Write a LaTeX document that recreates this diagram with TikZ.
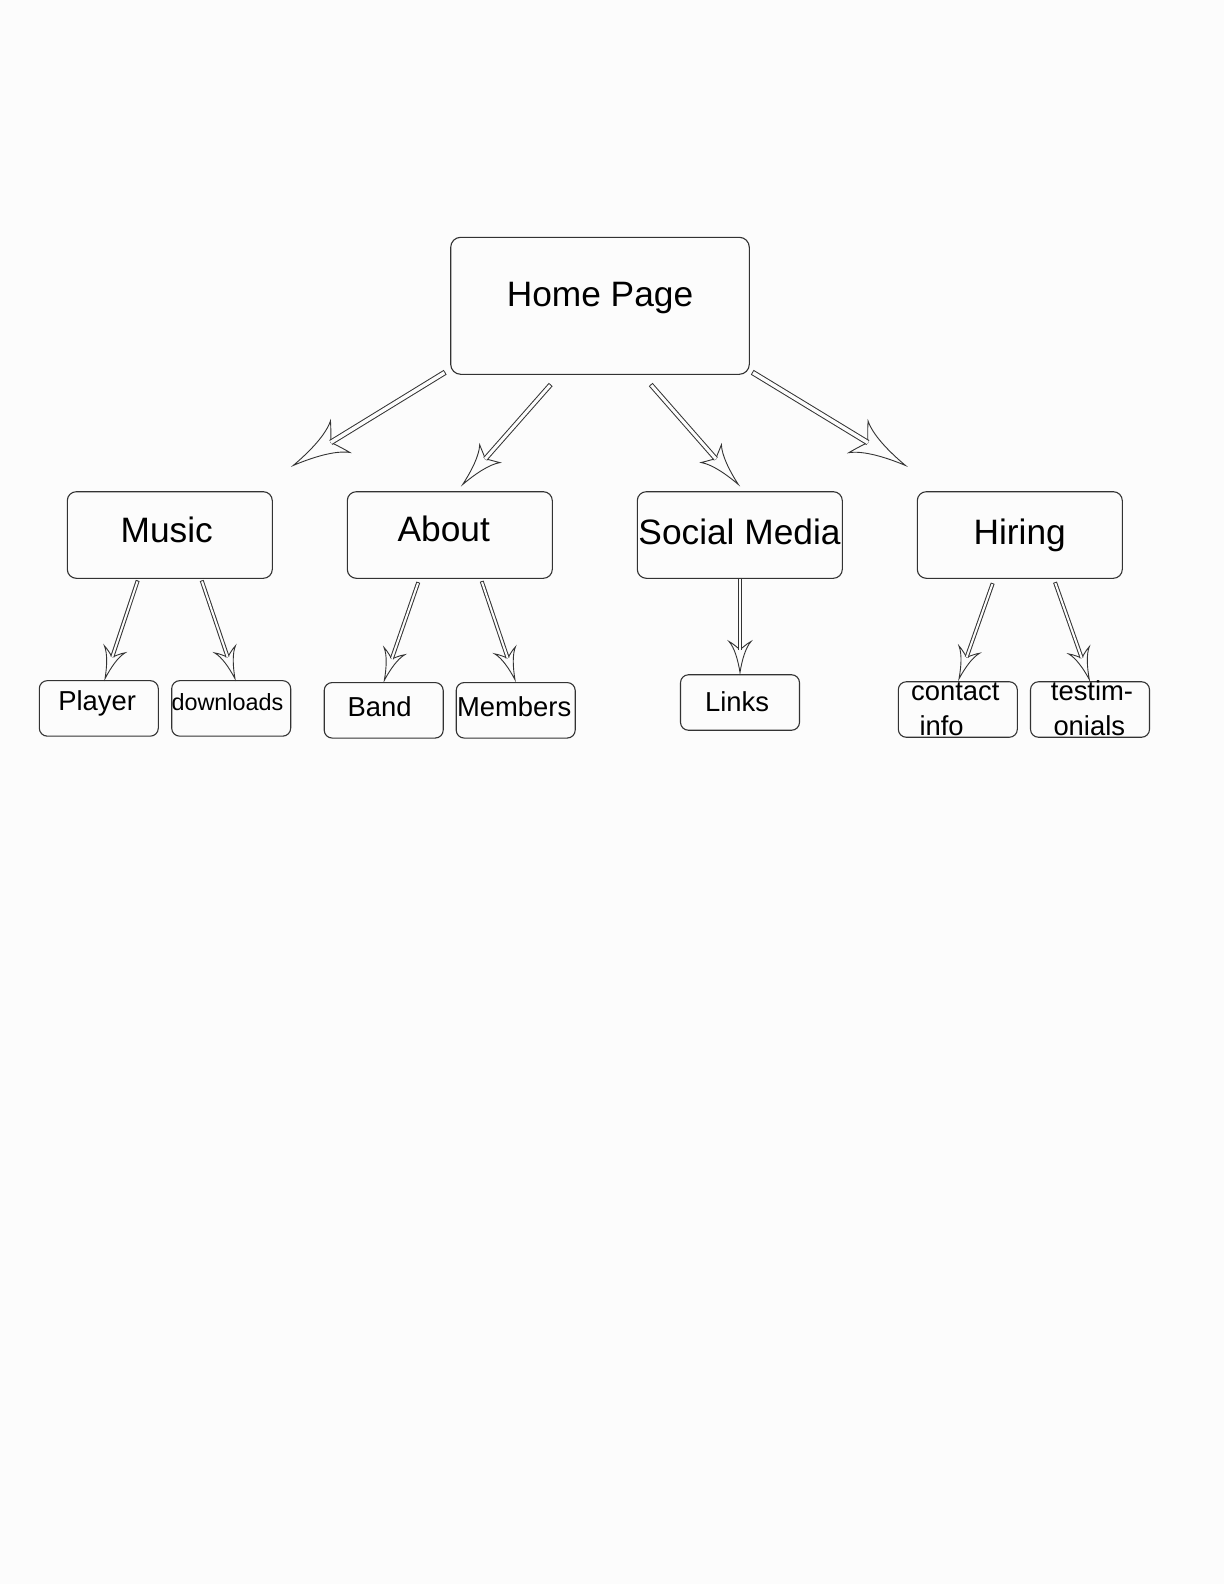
\documentclass[tikz,border=0pt]{standalone}
\usepackage{fontspec}
\setmainfont{Liberation Sans}
\usetikzlibrary{arrows.meta}
\definecolor{bgc}{HTML}{FCFCFC}
\definecolor{lc}{HTML}{333333}
\newdimen\swL \newdimen\swW \newdimen\swI
\pgfdeclarearrow{
  name = Swoosh,
  parameters = {\the\pgfarrowlength,\the\pgfarrowwidth,\the\pgfarrowinset},
  setup code = {
    \pgfarrowssettipend{0pt}
    \swI=\pgfarrowlength \advance\swI by -\pgfarrowinset
    \pgfarrowssetlineend{-\swI}
    \pgfarrowssetbackend{-\pgfarrowlength}
    \pgfarrowshullpoint{0pt}{0pt}
    \pgfarrowshullpoint{-\pgfarrowlength}{.5\pgfarrowwidth}
    \pgfarrowshullpoint{-\pgfarrowlength}{-.5\pgfarrowwidth}
    \pgfarrowssavethe\pgfarrowlength
    \pgfarrowssavethe\pgfarrowwidth
    \pgfarrowssavethe\pgfarrowinset
  },
  drawing code = {
    \swL=\pgfarrowlength \swW=.5\pgfarrowwidth
    \swI=\pgfarrowlength \advance\swI by -\pgfarrowinset
    \pgfpathmoveto{\pgfpointorigin}
    \pgfpathcurveto{\pgfqpoint{-.4\swL}{.18\swW}}{\pgfqpoint{-.8\swL}{.5\swW}}{\pgfqpoint{-\swL}{\swW}}
    \pgfpathcurveto{\pgfqpoint{-.93\swL}{.6\swW}}{\pgfqpoint{-1.05\swI}{.18\swW}}{\pgfqpoint{-\swI}{0pt}}
    \pgfpathcurveto{\pgfqpoint{-1.05\swI}{-.18\swW}}{\pgfqpoint{-.93\swL}{-.6\swW}}{\pgfqpoint{-\swL}{-\swW}}
    \pgfpathcurveto{\pgfqpoint{-.8\swL}{-.5\swW}}{\pgfqpoint{-.4\swL}{-.18\swW}}{\pgfpointorigin}
    \pgfpathclose
    \pgfusepathqfillstroke
  },
  defaults = {length=10pt, width=8pt, inset=3pt}
}
\tikzset{
  box/.style={draw=lc, line width=1.1pt, inner sep=0pt},
  topbox/.style={box, rounded corners=10pt, minimum width=298.6pt, minimum height=137pt},
  midbox/.style={box, rounded corners=9pt, minimum width=205pt, minimum height=86.6pt},
  smallbox/.style={box, rounded corners=8pt, minimum width=119pt, minimum height=55.5pt},
  lbl/.style={inner sep=0pt, anchor=base, text=black},
  lblw/.style={inner sep=0pt, anchor=base west, text=black},
  fbig/.style={font=\fontsize{35.3}{42}\selectfont},
  fsmall/.style={font=\fontsize{27.4}{33}\selectfont},
  fdl/.style={font=\fontsize{23.4}{28}\selectfont},
  headbig/.style={-{Swoosh[length=55pt,width=37pt,inset=11pt,fill=bgc]}},
  headmid/.style={-{Swoosh[length=41pt,width=27pt,inset=7pt,fill=bgc]}},
  headsmall/.style={-{Swoosh[length=31pt,width=22pt,inset=8pt,fill=bgc]}},
}
% #1 head style, #2 outer width, #3 inner width, #4 shorten, #5 start, #6 end
\newcommand\conn[6]{%
  \draw[lc, line width=0.9pt, #1] #5 -- #6;
  \draw[lc, line width=#2, shorten >=#4] #5 -- #6;
  \draw[bgc, line width=#3, shorten >=#4, shorten <=0.9pt] #5 -- #6;
}
\begin{document}
\begin{tikzpicture}[x=1pt, y=-1pt]
  \fill[bgc] (0,0) rectangle (1224,1584);
  \path[use as bounding box] (0,0) rectangle (1224,1584);

  % boxes
  \node[topbox] (home) at (600,305.8) {};
  \node[midbox] (music) at (169.8,535) {};
  \node[midbox] (about) at (449.8,535) {};
  \node[midbox] (social) at (739.8,535) {};
  \node[midbox] (hiring) at (1019.8,535) {};
  \node[smallbox] (player) at (98.8,708.4) {};
  \node[smallbox] (downloads) at (231.2,708.4) {};
  \node[smallbox] (band) at (383.7,710.3) {};
  \node[smallbox] (members) at (515.7,710.3) {};
  \node[smallbox] (links) at (740,702.5) {};
  \node[smallbox] (contact) at (957.8,709.5) {};
  \node[smallbox] (testim) at (1090,709.5) {};

  % labels
  \node[lbl, fbig] (homet) at (600,306) {Home Page};
  \node[lbl, fbig] (musict) at (166.7,542.7) {Music};
  \node[lbl, fbig] (aboutt) at (443.8,541.7) {About};
  \node[lbl, fbig] (socialt) at (739.5,544) {Social Media};
  \node[lbl, fbig] (hiringt) at (1019.7,544) {Hiring};
  \node[lbl, fsmall] (playert) at (97.2,710.7) {Player};
  \node[lbl, fdl] (downloadst) at (227.5,710.7) {downloads};
  \node[lbl, fsmall] (bandt) at (379.5,716.7) {Band};
  \node[lbl, fsmall] (memberst) at (514.2,716.7) {Members};
  \node[lbl, fsmall] (linkst) at (737,711.7) {Links};
  \node[lblw, fsmall] (contactt1) at (911,700.7) {contact};
  \node[lblw, fsmall] (contactt2) at (919.3,735) {info};
  \node[lblw, fsmall] (testimt1) at (1050.7,700.7) {testim-};
  \node[lblw, fsmall] (testimt2) at (1053.3,735) {onials};

  % connectors
  \conn{headbig}{5.5pt}{3.5pt}{44pt}{([xshift=-5pt,yshift=2.6pt]home.south west)}{([xshift=20.4pt,yshift=25.7pt]music.north east)}
  \conn{headmid}{5pt}{3pt}{34pt}{([xshift=-49.3pt,yshift=-9.7pt]home.south)}{([xshift=12.9pt,yshift=6.7pt]about.north)}
  \conn{headmid}{5pt}{3pt}{34pt}{([xshift=50.7pt,yshift=-9.7pt]home.south)}{([xshift=-1.5pt,yshift=6.7pt]social.north)}
  \conn{headbig}{5.5pt}{3.5pt}{44pt}{([xshift=2.4pt,yshift=2.6pt]home.south east)}{([xshift=-11.3pt,yshift=25.7pt]hiring.north west)}

  \conn{headsmall}{4pt}{2pt}{23pt}{([xshift=-32.1pt,yshift=-1.7pt]music.south)}{([xshift=6.2pt,yshift=1.4pt]player.north)}
  \conn{headsmall}{4pt}{2pt}{23pt}{([xshift=31.9pt,yshift=-1.7pt]music.south)}{([xshift=3.8pt,yshift=1.4pt]downloads.north)}
  \conn{headsmall}{4pt}{2pt}{23pt}{([xshift=-31.5pt,yshift=-3.4pt]about.south)}{([xshift=0.6pt,yshift=1.6pt]band.north)}
  \conn{headsmall}{4pt}{2pt}{23pt}{([xshift=31.9pt,yshift=-2.4pt]about.south)}{([xshift=-0.7pt,yshift=2.3pt]members.north)}
  \conn{headsmall}{4pt}{2pt}{23pt}{([xshift=0.2pt,yshift=1pt]social.south)}{([yshift=1.7pt]links.north)}
  \conn{headsmall}{4pt}{2pt}{23pt}{([xshift=-27.1pt,yshift=-4.4pt]hiring.south)}{([xshift=1.2pt,yshift=2.4pt]contact.north)}
  \conn{headsmall}{4pt}{2pt}{23pt}{([xshift=35.2pt,yshift=-3.4pt]hiring.south)}{([xshift=-0.7pt,yshift=1.7pt]testim.north)}
\end{tikzpicture}
\end{document}
